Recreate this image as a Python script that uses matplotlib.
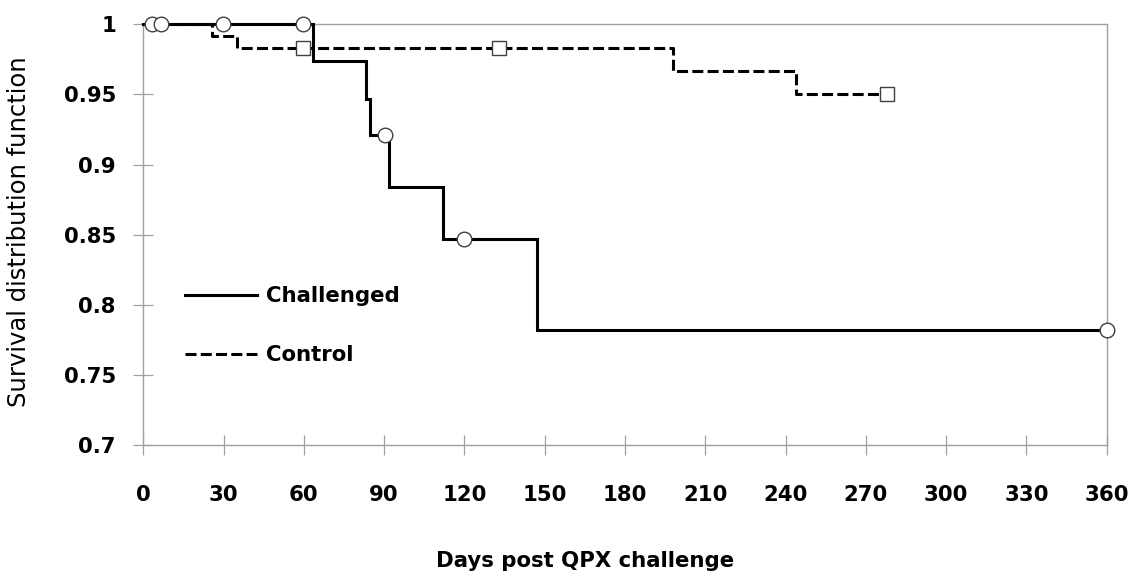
import matplotlib
matplotlib.use('Agg')
import matplotlib.pyplot as plt
from matplotlib.lines import Line2D

# 데이터 #
chal_days = [0, 63.3, 83.3, 84.6, 91.9, 111.9, 147.0, 360]
chal_surv = [1.0, 0.974, 0.947, 0.921, 0.884, 0.847, 0.782, 0.782]
chal_cens_days = [3.1, 6.8, 29.6, 59.6, 90.2, 120.0, 360]
chal_cens_surv = [1.0, 1.0, 1.0, 1.0, 0.921, 0.847, 0.782]

ctrl_days = [0, 25.5, 35.0, 197.8, 243.8, 278.0]
ctrl_surv = [1.0, 0.992, 0.983, 0.967, 0.950, 0.950]
ctrl_cens_days = [59.6, 133.0, 278.0]
ctrl_cens_surv = [0.983, 0.983, 0.950]

x_ticks = list(range(0, 361, 30))
y_ticks = [0.7, 0.75, 0.8, 0.85, 0.9, 0.95, 1.0]
y_tick_labels = ['0.7', '0.75', '0.8', '0.85', '0.9', '0.95', '1']

W, H = 1136, 578
fig = plt.figure(figsize=(W / 100, H / 100), dpi=100)
ax = fig.add_axes([143.3 / W, 1 - 445 / H, (1106.7 - 143.3) / W, (445 - 24.3) / H])

fs = 15.3
grey = '#a0a0a0'

# 계단 그래프 #
ax.step(chal_days, chal_surv, where='post', color='black', lw=2.2,
        solid_joinstyle='miter', clip_on=False, zorder=4)
ax.step(ctrl_days, ctrl_surv, where='post', color='black', lw=2.2,
        dashes=(3.6, 1.4), clip_on=False, zorder=3)

# 중도절단 표시 #
ax.plot(chal_cens_days, chal_cens_surv, ls='none', marker='o', ms=10.5, mfc='white',
        mec='#404040', mew=1.0, clip_on=False, zorder=5)
ax.plot(ctrl_cens_days, ctrl_cens_surv, ls='none', marker='s', ms=10, mfc='white',
        mec='#404040', mew=1.0, clip_on=False, zorder=5)

ax.set_xlim(0, 360)
ax.set_ylim(0.7, 1.0)
ax.set_xticks(x_ticks)
ax.set_xticklabels([str(v) for v in x_ticks], fontsize=fs, fontweight='bold')
ax.set_yticks(y_ticks)
ax.set_yticklabels(y_tick_labels, fontsize=fs, fontweight='bold')
ax.tick_params(axis='x', direction='inout', length=14.4, width=0.9, color=grey, pad=21.6)
ax.tick_params(axis='y', direction='inout', length=14.4, width=0.9, color=grey, pad=12.5)
for s in ax.spines.values():
    s.set_color(grey)
    s.set_linewidth(1.0)

# 축 제목 #
fig.text(585 / W, 1 - 567 / H, 'Days post QPX challenge', ha='center', va='baseline',
         fontsize=fs, fontweight='bold')
fig.text(19 / W, 1 - 232 / H, 'Survival distribution function', ha='center', va='center',
         rotation=90, fontsize=17.5)

# 범례 #
handles = [Line2D([], [], color='black', lw=2.2),
           Line2D([], [], color='black', lw=2.2, dashes=(3.6, 1.4))]
ax.legend(handles, ['Challenged', 'Control'], loc='upper left', frameon=False,
          bbox_to_anchor=(185 / W, 1 - 286 / H), bbox_transform=fig.transFigure,
          borderpad=0, borderaxespad=0, handlelength=3.4, handletextpad=0.4,
          labelspacing=1.85, prop={'size': fs, 'weight': 'bold'})

fig.savefig('out.png', dpi=100)
